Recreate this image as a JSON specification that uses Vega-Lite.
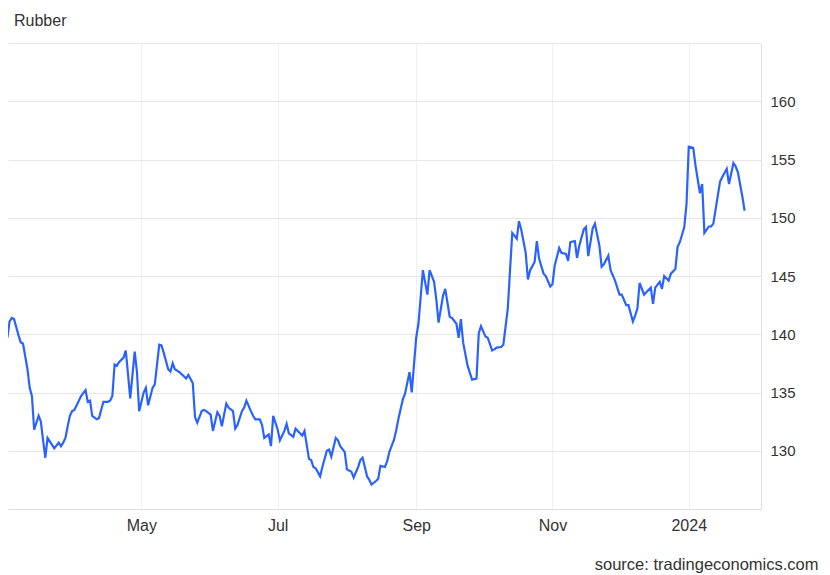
{
  "$schema": "https://vega.github.io/schema/vega-lite/v6.json",
  "width": 753,
  "height": 466,
  "autosize": "none",
  "padding": {"left": 8, "top": 43, "right": 69, "bottom": 66},
  "background": "white",
  "config": {"view": {"stroke": null}, "font": "Liberation Sans"},
  "title": {"text": "Rubber", "anchor": "start", "frame": "group", "orient": "top", "offset": 1, "baseline": "alphabetic", "dx": 6, "fontSize": 16, "fontWeight": "normal", "color": "#333333"},
  "data": {"values": [
    {"date":"2023-03-02","price":139.7},{"date":"2023-03-03","price":141.1},{"date":"2023-03-04","price":141.4},{"date":"2023-03-05","price":141.3},{"date":"2023-03-06","price":140.6},{"date":"2023-03-07","price":139.9},{"date":"2023-03-08","price":139.3},{"date":"2023-03-09","price":139.2},{"date":"2023-03-11","price":137.0},{"date":"2023-03-12","price":135.4},{"date":"2023-03-13","price":134.7},{"date":"2023-03-14","price":131.8},{"date":"2023-03-15","price":132.4},{"date":"2023-03-16","price":133.0},{"date":"2023-03-17","price":132.5},{"date":"2023-03-18","price":130.9},{"date":"2023-03-19","price":129.4},{"date":"2023-03-20","price":131.1},{"date":"2023-03-22","price":130.5},{"date":"2023-03-23","price":130.2},{"date":"2023-03-25","price":130.7},{"date":"2023-03-26","price":130.4},{"date":"2023-03-27","price":130.7},{"date":"2023-03-28","price":131.1},{"date":"2023-03-29","price":132.1},{"date":"2023-03-30","price":133.0},{"date":"2023-03-31","price":133.4},
    {"date":"2023-04-01","price":133.5},{"date":"2023-04-03","price":134.3},{"date":"2023-04-04","price":134.7},{"date":"2023-04-06","price":135.2},{"date":"2023-04-07","price":134.2},{"date":"2023-04-08","price":134.3},{"date":"2023-04-09","price":133.0},{"date":"2023-04-11","price":132.7},{"date":"2023-04-12","price":132.8},{"date":"2023-04-14","price":134.2},{"date":"2023-04-16","price":134.2},{"date":"2023-04-17","price":134.3},{"date":"2023-04-18","price":134.7},{"date":"2023-04-19","price":137.4},{"date":"2023-04-20","price":137.3},{"date":"2023-04-21","price":137.6},{"date":"2023-04-23","price":138.0},{"date":"2023-04-24","price":138.6},{"date":"2023-04-25","price":136.6},{"date":"2023-04-26","price":134.5},{"date":"2023-04-28","price":138.5},{"date":"2023-04-29","price":136.8},{"date":"2023-04-30","price":133.4},
    {"date":"2023-05-02","price":135.0},{"date":"2023-05-03","price":135.4},{"date":"2023-05-04","price":133.9},{"date":"2023-05-06","price":135.4},{"date":"2023-05-07","price":135.7},{"date":"2023-05-09","price":139.1},{"date":"2023-05-10","price":139.05},{"date":"2023-05-11","price":138.4},{"date":"2023-05-13","price":137.0},{"date":"2023-05-14","price":136.8},{"date":"2023-05-15","price":137.5},{"date":"2023-05-16","price":137.0},{"date":"2023-05-18","price":136.75},{"date":"2023-05-20","price":136.4},{"date":"2023-05-21","price":136.2},{"date":"2023-05-22","price":136.5},{"date":"2023-05-24","price":135.8},{"date":"2023-05-25","price":132.9},{"date":"2023-05-26","price":132.4},{"date":"2023-05-28","price":133.4},{"date":"2023-05-29","price":133.5},{"date":"2023-05-30","price":133.4},
    {"date":"2023-06-01","price":133.1},{"date":"2023-06-02","price":131.7},{"date":"2023-06-04","price":133.3},{"date":"2023-06-05","price":133.0},{"date":"2023-06-06","price":132.1},{"date":"2023-06-08","price":134.05},{"date":"2023-06-09","price":133.7},{"date":"2023-06-11","price":133.4},{"date":"2023-06-12","price":131.9},{"date":"2023-06-13","price":132.2},{"date":"2023-06-15","price":133.4},{"date":"2023-06-16","price":133.7},{"date":"2023-06-17","price":134.3},{"date":"2023-06-19","price":133.4},{"date":"2023-06-20","price":133.0},{"date":"2023-06-21","price":132.7},{"date":"2023-06-23","price":132.7},{"date":"2023-06-24","price":132.2},{"date":"2023-06-25","price":131.1},{"date":"2023-06-27","price":131.4},{"date":"2023-06-28","price":130.4},{"date":"2023-06-29","price":133.0},
    {"date":"2023-07-01","price":131.8},{"date":"2023-07-02","price":130.9},{"date":"2023-07-04","price":131.7},{"date":"2023-07-05","price":132.3},{"date":"2023-07-06","price":131.5},{"date":"2023-07-08","price":131.2},{"date":"2023-07-09","price":131.9},{"date":"2023-07-11","price":131.5},{"date":"2023-07-12","price":131.3},{"date":"2023-07-13","price":131.7},{"date":"2023-07-15","price":129.3},{"date":"2023-07-16","price":129.2},{"date":"2023-07-17","price":128.6},{"date":"2023-07-18","price":128.5},{"date":"2023-07-20","price":127.8},{"date":"2023-07-21","price":128.6},{"date":"2023-07-23","price":130.0},{"date":"2023-07-24","price":130.1},{"date":"2023-07-25","price":129.5},{"date":"2023-07-27","price":131.1},{"date":"2023-07-28","price":130.9},{"date":"2023-07-29","price":130.4},{"date":"2023-07-31","price":129.9},
    {"date":"2023-08-01","price":128.4},{"date":"2023-08-03","price":128.2},{"date":"2023-08-04","price":127.7},{"date":"2023-08-06","price":128.6},{"date":"2023-08-07","price":129.2},{"date":"2023-08-08","price":129.4},{"date":"2023-08-10","price":127.8},{"date":"2023-08-11","price":127.5},{"date":"2023-08-12","price":127.1},{"date":"2023-08-14","price":127.4},{"date":"2023-08-15","price":127.6},{"date":"2023-08-16","price":128.7},{"date":"2023-08-18","price":128.6},{"date":"2023-08-19","price":129.1},{"date":"2023-08-20","price":129.9},{"date":"2023-08-22","price":130.9},{"date":"2023-08-23","price":131.7},{"date":"2023-08-24","price":132.7},{"date":"2023-08-26","price":134.4},{"date":"2023-08-27","price":134.9},{"date":"2023-08-29","price":136.75},{"date":"2023-08-30","price":135.0},
    {"date":"2023-09-01","price":139.7},{"date":"2023-09-02","price":140.9},{"date":"2023-09-03","price":143.2},{"date":"2023-09-04","price":145.5},{"date":"2023-09-06","price":143.4},{"date":"2023-09-07","price":145.5},{"date":"2023-09-09","price":144.5},{"date":"2023-09-10","price":143.0},{"date":"2023-09-11","price":141.0},{"date":"2023-09-13","price":143.3},{"date":"2023-09-14","price":143.9},{"date":"2023-09-16","price":141.5},{"date":"2023-09-17","price":141.4},{"date":"2023-09-19","price":140.9},{"date":"2023-09-20","price":139.7},{"date":"2023-09-21","price":141.3},{"date":"2023-09-22","price":139.3},{"date":"2023-09-24","price":137.3},{"date":"2023-09-25","price":136.7},{"date":"2023-09-26","price":136.1},{"date":"2023-09-28","price":136.2},{"date":"2023-09-29","price":140.1},{"date":"2023-09-30","price":140.7},
    {"date":"2023-10-02","price":139.8},{"date":"2023-10-03","price":139.7},{"date":"2023-10-05","price":138.6},{"date":"2023-10-06","price":138.7},{"date":"2023-10-07","price":138.85},{"date":"2023-10-09","price":138.9},{"date":"2023-10-10","price":139.1},{"date":"2023-10-12","price":142.2},{"date":"2023-10-13","price":145.5},{"date":"2023-10-14","price":148.7},{"date":"2023-10-16","price":148.2},{"date":"2023-10-17","price":149.7},{"date":"2023-10-18","price":149.0},{"date":"2023-10-20","price":147.0},{"date":"2023-10-21","price":144.7},{"date":"2023-10-22","price":145.5},{"date":"2023-10-24","price":146.2},{"date":"2023-10-25","price":148.0},{"date":"2023-10-26","price":146.5},{"date":"2023-10-28","price":145.2},{"date":"2023-10-29","price":145.0},{"date":"2023-10-31","price":144.1},
    {"date":"2023-11-01","price":144.3},{"date":"2023-11-02","price":145.9},{"date":"2023-11-04","price":147.4},{"date":"2023-11-05","price":147.0},{"date":"2023-11-07","price":146.9},{"date":"2023-11-08","price":146.3},{"date":"2023-11-09","price":147.9},{"date":"2023-11-11","price":148.0},{"date":"2023-11-12","price":146.55},{"date":"2023-11-13","price":147.6},{"date":"2023-11-15","price":149.0},{"date":"2023-11-16","price":149.2},{"date":"2023-11-17","price":146.7},{"date":"2023-11-19","price":149.1},{"date":"2023-11-20","price":149.5},{"date":"2023-11-22","price":147.6},{"date":"2023-11-23","price":145.8},{"date":"2023-11-24","price":146.0},{"date":"2023-11-26","price":146.75},{"date":"2023-11-27","price":145.5},{"date":"2023-11-29","price":144.6},{"date":"2023-11-30","price":144.0},
    {"date":"2023-12-01","price":143.4},{"date":"2023-12-02","price":143.4},{"date":"2023-12-04","price":142.5},{"date":"2023-12-05","price":142.5},{"date":"2023-12-07","price":141.1},{"date":"2023-12-08","price":141.6},{"date":"2023-12-09","price":142.2},{"date":"2023-12-10","price":144.4},{"date":"2023-12-12","price":143.4},{"date":"2023-12-13","price":143.6},{"date":"2023-12-15","price":144.0},{"date":"2023-12-16","price":142.6},{"date":"2023-12-17","price":144.0},{"date":"2023-12-19","price":144.5},{"date":"2023-12-20","price":143.9},{"date":"2023-12-21","price":145.0},{"date":"2023-12-23","price":144.6},{"date":"2023-12-24","price":145.2},{"date":"2023-12-26","price":145.6},{"date":"2023-12-27","price":147.5},{"date":"2023-12-28","price":147.9},{"date":"2023-12-30","price":149.2},{"date":"2023-12-31","price":151.2},
    {"date":"2024-01-01","price":156.1},{"date":"2024-01-03","price":156.0},{"date":"2024-01-04","price":154.5},{"date":"2024-01-06","price":152.1},{"date":"2024-01-07","price":152.9},{"date":"2024-01-08","price":148.7},{"date":"2024-01-10","price":149.25},{"date":"2024-01-11","price":149.25},{"date":"2024-01-12","price":149.5},{"date":"2024-01-14","price":151.9},{"date":"2024-01-15","price":153.1},{"date":"2024-01-16","price":153.5},{"date":"2024-01-18","price":154.2},{"date":"2024-01-19","price":152.9},{"date":"2024-01-21","price":154.7},{"date":"2024-01-22","price":154.4},{"date":"2024-01-23","price":153.9},{"date":"2024-01-25","price":151.8},{"date":"2024-01-26","price":150.6}
  ]},
  "mark": {"type": "line", "color": "#2962ff", "strokeWidth": 2.2, "clip": true},
  "encoding": {
    "x": {
      "field": "date", "type": "temporal",
      "scale": {"type": "utc", "domain": [{"year": 2023, "month": 3, "date": 2, "hours": 7, "utc": true}, {"year": 2024, "month": 2, "date": 2, "hours": 8, "utc": true}], "nice": false},
      "axis": {
        "title": "source: tradingeconomics.com",
        "titleFontSize": 16.5, "titleFontWeight": "normal", "titleColor": "#333333",
        "titleAnchor": "end", "titleAlign": "right", "titleBaseline": "alphabetic",
        "titleX": 810, "titleY": 60,
        "tickCount": {"interval": "month", "step": 2},
        "labelExpr": "utcmonth(datum.value) == 0 ? utcFormat(datum.value, '%Y') : utcFormat(datum.value, '%b')",
        "labelFontSize": 16, "labelColor": "#333333", "labelPadding": 8,
        "ticks": false, "tickSize": 0, "labelFlush": false, "labelOverlap": false,
        "grid": true, "gridColor": "#eef1f4", "gridWidth": 1,
        "domain": true, "domainColor": "#e0e0e0", "domainWidth": 1
      }
    },
    "y": {
      "field": "price", "type": "quantitative",
      "scale": {"domain": [125, 165], "nice": false, "zero": false},
      "axis": {
        "orient": "right", "title": null,
        "values": [125, 130, 135, 140, 145, 150, 155, 160, 165],
        "labelExpr": "datum.value == 125 || datum.value == 165 ? '' : datum.label",
        "labelFontSize": 15, "labelColor": "#333333", "labelPadding": 9, "labelAlign": "left",
        "ticks": false, "tickSize": 0,
        "grid": true, "gridColor": "#e6e6e6", "gridWidth": 1,
        "domain": true, "domainColor": "#e0e0e0", "domainWidth": 1
      }
    }
  }
}
